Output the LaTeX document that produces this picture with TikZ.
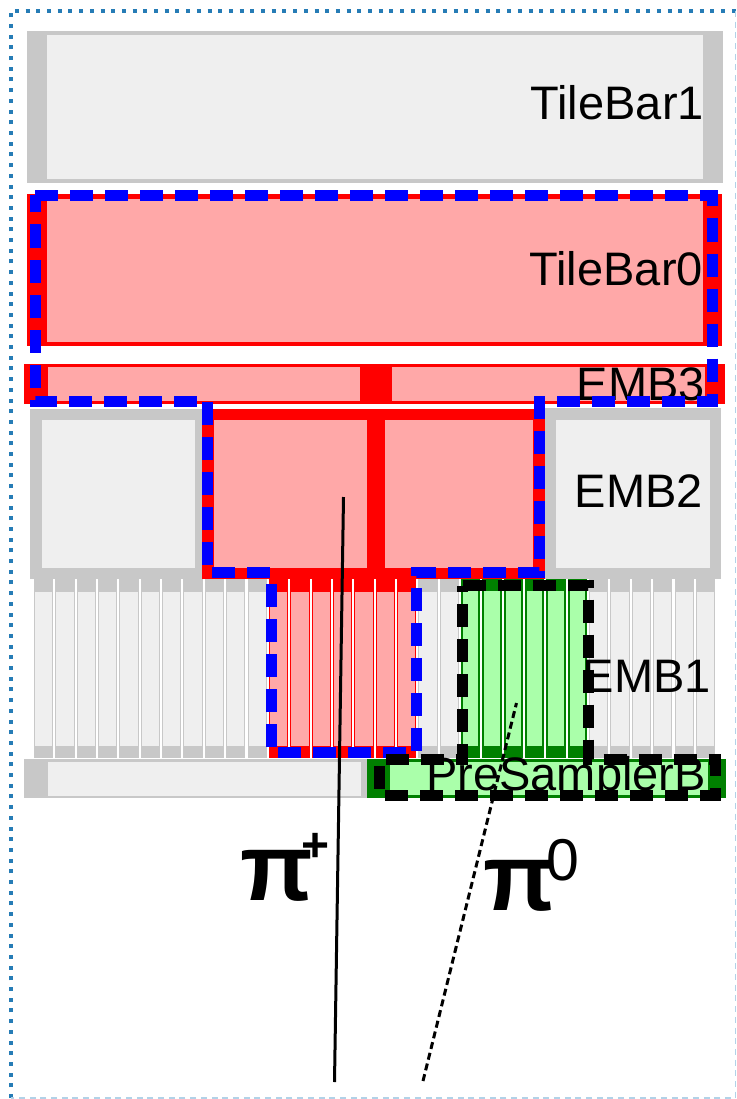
\documentclass[tikz,border=0pt]{standalone}
\usepackage{fontspec}
\setmainfont{Liberation Sans}
\definecolor{rimgray}{RGB}{200,200,200}
\definecolor{coregray}{RGB}{239,239,239}
\definecolor{corepink}{RGB}{255,168,168}
\definecolor{rimgreen}{RGB}{0,128,0}
\definecolor{coregreen}{RGB}{170,255,170}
\definecolor{frameblue}{RGB}{38,124,182}
\definecolor{framelight}{RGB}{178,210,232}

\begin{document}
\begin{tikzpicture}[x=1pt,y=-1pt,
  lbl/.style={anchor=base east,inner sep=0pt,font=\fontsize{47}{47}\selectfont},
  pilbl/.style={anchor=base west,inner sep=0pt},
  cluster/.style={line width=11pt,dash pattern=on 23pt off 12pt}]

\useasboundingbox (0,0) rectangle (736,1099);
\fill[white] (0,0) rectangle (736,1099);

% frame
\draw[frameblue,line width=4pt,dash pattern=on 4pt off 6.7pt] (10.5,1098) -- (10.5,11) -- (735.5,11);
\draw[framelight,line width=1.5pt,dash pattern=on 6pt off 4.7pt] (735.5,11) -- (735.5,1098) -- (10.5,1098);

% TileBar1
\fill[rimgray] (27,31) rectangle (723,183);
\fill[coregray] (47,35) rectangle (703,179);

% TileBar0
\fill[red] (27,194) rectangle (722,346);
\fill[corepink] (47,199) rectangle (703,342);

% EMB3
\fill[red] (24,364) rectangle (725,404);
\fill[corepink] (48,367) rectangle (360,401);
\fill[corepink] (392,367) rectangle (705,401);

% EMB2
\fill[rimgray] (30,409) rectangle (202,579);
\fill[coregray] (42,420) rectangle (195,568);
\fill[red] (202,409) rectangle (545,579);
\fill[corepink] (214,420) rectangle (367,568);
\fill[corepink] (385,420) rectangle (533,568);
\fill[rimgray] (545,408) rectangle (721,579);
\fill[coregray] (556,420) rectangle (710,568);

% EMB1 strips
\foreach \k in {0,...,31} {
  \fill[rimgray] ({34+21.35*\k},579) rectangle +(19.3,179);
  \fill[coregray] ({35+21.35*\k},592) rectangle +(17.3,154);
}
\foreach \k in {11,...,17} {
  \fill[red] ({34+21.35*\k},579) rectangle +(19.3,179);
  \fill[corepink] ({35+21.35*\k},592) rectangle +(17.3,154);
}
\foreach \k in {20,...,25} {
  \fill[rimgreen] ({34+21.35*\k},579) rectangle +(19.3,179);
  \fill[coregreen] ({36+21.35*\k},591) rectangle +(15.3,155);
}

% PreSamplerB
\fill[rimgray] (24,759) rectangle (367,798);
\fill[coregray] (48,762) rectangle (361,796);
\fill[rimgreen] (367,759) rectangle (726,798);
\fill[coregreen] (390,762) rectangle (708,795);

\node[lbl] (lblTileBarA) at (704,120) {TileBar1};
\node[lbl] (lblTileBarB) at (703,285) {TileBar0};
\node[lbl] (lblEMBc) at (705,400) {EMB3};
\node[lbl] (lblEMBb) at (703,507) {EMB2};
\node[lbl] (lblEMBa) at (711,692) {EMB1};
\node[lbl] (lblPreSampler) at (706,790) {PreSamplerB};

% clusters
\draw[blue,cluster] (35,195.5) -- (712,195.5) -- (712,401) -- (539.5,401) -- (539.5,572.5)
  -- (416.5,572.5) -- (416.5,752) -- (271,752) -- (271,572.5) -- (207.5,572.5)
  -- (207.5,401) -- (35,401) -- cycle;
\draw[black,cluster] (462.5,585.5) -- (588.5,585.5) -- (588.5,759.5) -- (715,759.5)
  -- (715,795.5) -- (379.5,795.5) -- (379.5,759.5) -- (462.5,759.5) -- cycle;

% tracks
\coordinate (pipIn) at (343.5,497);
\coordinate (pipOut) at (334.5,1082);
\draw[line width=3pt] (pipOut) -- (pipIn);
\coordinate (pizIn) at (516.5,703);
\coordinate (pizOut) at (423,1081);
\draw[line width=3pt,dash pattern=on 7pt off 4pt] (pizOut) -- (pizIn);

\node[pilbl,font=\bfseries\fontsize{95}{95}\selectfont] (lblPiPlus) at (240,900) {π};
\node[pilbl,font=\bfseries\fontsize{48}{48}\selectfont] (lblPlus) at (301,861) {+};
\node[pilbl,font=\bfseries\fontsize{95}{95}\selectfont] (lblPiZero) at (483,910) {π};
\node[pilbl,font=\fontsize{59}{59}\selectfont] (lblZero) at (546,880) {0};
\end{tikzpicture}
\end{document}
